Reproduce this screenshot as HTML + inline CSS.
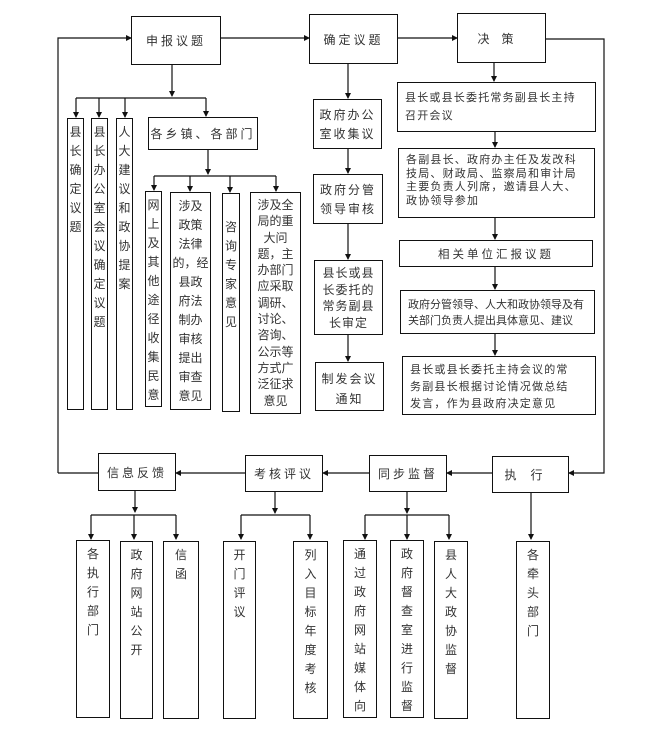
<!DOCTYPE html>
<html><head><meta charset="utf-8"><style>
body{margin:0;background:#fff;}
#c{position:relative;width:651px;height:746px;overflow:hidden;font-family:"Liberation Sans","Noto Sans CJK SC",sans-serif;color:#333;}
.b{position:absolute;border:1.3px solid #111;box-sizing:border-box;background:#fff;font-size:12px;}
.h{display:flex;align-items:center;justify-content:center;letter-spacing:3px;}
.v{text-align:center;line-height:19px;padding-top:4px;font-size:12px;}
.p{font-size:11px;letter-spacing:1.2px;line-height:16px;padding:6px 7px;}
svg{position:absolute;left:0;top:0;}
</style></head><body><div id="c">
<svg width="651" height="746">
<defs><marker id="a" markerWidth="6" markerHeight="6" refX="5" refY="3" orient="auto" markerUnits="userSpaceOnUse"><path d="M0,0 L6,3 L0,6z" fill="#111"/></marker></defs>
<g stroke="#111" stroke-width="1.2" fill="none">
<path d="M58,473 L58,38 L131,38" marker-end="url(#a)"/>
<path d="M221,38 L309,38" marker-end="url(#a)"/>
<path d="M398,38 L457,38" marker-end="url(#a)"/>
<path d="M546,39 L604,39 L604,473 L569,473" marker-end="url(#a)"/>
<path d="M172,65 L172,96" marker-end="url(#a)"/>
<path d="M76,98 L206,98"/>
<path d="M76,98 L76,117" marker-end="url(#a)"/>
<path d="M99,98 L99,117" marker-end="url(#a)"/>
<path d="M125,98 L125,117" marker-end="url(#a)"/>
<path d="M206,98 L206,116" marker-end="url(#a)"/>
<path d="M208,150 L208,174" marker-end="url(#a)"/>
<path d="M154,176 L276,176"/>
<path d="M154,176 L154,190" marker-end="url(#a)"/>
<path d="M190,176 L190,191" marker-end="url(#a)"/>
<path d="M230,176 L230,192" marker-end="url(#a)"/>
<path d="M276,176 L276,191" marker-end="url(#a)"/>
<path d="M348,64 L348,98" marker-end="url(#a)"/>
<path d="M348,149 L348,173" marker-end="url(#a)"/>
<path d="M348,224 L348,259" marker-end="url(#a)"/>
<path d="M348,335 L348,361" marker-end="url(#a)"/>
<path d="M494,63 L494,81" marker-end="url(#a)"/>
<path d="M495,132 L495,147" marker-end="url(#a)"/>
<path d="M495,218 L495,239" marker-end="url(#a)"/>
<path d="M495,267 L495,289" marker-end="url(#a)"/>
<path d="M495,334 L495,355" marker-end="url(#a)"/>
<path d="M492,473 L447,473" marker-end="url(#a)"/>
<path d="M369,473 L323,473" marker-end="url(#a)"/>
<path d="M245,473 L176,473" marker-end="url(#a)"/>
<path d="M98,473 L58,473"/>
<path d="M135,491 L135,512" marker-end="url(#a)"/>
<path d="M91,515 L176,515"/>
<path d="M91,515 L91,539" marker-end="url(#a)"/>
<path d="M134,515 L134,539" marker-end="url(#a)"/>
<path d="M176,515 L176,539" marker-end="url(#a)"/>
<path d="M275,492 L275,513" marker-end="url(#a)"/>
<path d="M241,515 L310,515"/>
<path d="M241,515 L241,539" marker-end="url(#a)"/>
<path d="M310,515 L310,539" marker-end="url(#a)"/>
<path d="M407,492 L407,513" marker-end="url(#a)"/>
<path d="M365,515 L449,515"/>
<path d="M365,515 L365,539" marker-end="url(#a)"/>
<path d="M407,515 L407,539" marker-end="url(#a)"/>
<path d="M449,515 L449,539" marker-end="url(#a)"/>
<path d="M531,493 L531,539" marker-end="url(#a)"/>
</g></svg>

<div class="b h" style="left:131px;top:16px;width:90px;height:49px">申报议题</div>
<div class="b h" style="left:309px;top:14px;width:89px;height:50px">确定议题</div>
<div class="b h" style="left:457px;top:13px;width:89px;height:50px;letter-spacing:12px">决策</div>

<div class="b v" style="left:67px;top:118px;width:17px;height:292px">县<br>长<br>确<br>定<br>议<br>题</div>
<div class="b v" style="left:91px;top:118px;width:17px;height:292px">县<br>长<br>办<br>公<br>室<br>会<br>议<br>确<br>定<br>议<br>题</div>
<div class="b v" style="left:116px;top:118px;width:17px;height:292px">人<br>大<br>建<br>议<br>和<br>政<br>协<br>提<br>案</div>
<div class="b h" style="left:148px;top:117px;width:110px;height:33px">各乡镇、各部门</div>
<div class="b v" style="left:145px;top:191px;width:17px;height:216px">网<br>上<br>及<br>其<br>他<br>途<br>径<br>收<br>集<br>民<br>意</div>
<div class="b v" style="left:170px;top:192px;width:41px;height:218px">涉及<br>政策<br>法律<br>的，经<br>县政<br>府法<br>制办<br>审核<br>提出<br>审查<br>意见</div>
<div class="b v" style="left:222px;top:193px;width:18px;height:219px;padding-top:24px">咨<br>询<br>专<br>家<br>意<br>见</div>
<div class="b v" style="left:250px;top:192px;width:51px;height:222px;line-height:16.3px;padding-top:4px">涉及全<br>局的重<br>大问<br>题，主<br>办部门<br>应采取<br>调研、<br>讨论、<br>咨询、<br>公示等<br>方式广<br>泛征求<br>意见</div>

<div class="b" style="left:313px;top:99px;width:69px;height:50px;padding:6px 4px;line-height:19px;letter-spacing:2px;font-size:12px;text-align:center">政府办公<br>室收集议</div>
<div class="b" style="left:313px;top:174px;width:70px;height:50px;padding:6px 4px;line-height:19px;letter-spacing:2px;font-size:12px;text-align:center">政府分管<br>领导审核</div>
<div class="b" style="left:314px;top:260px;width:69px;height:75px;padding:4px 4px;line-height:16.5px;letter-spacing:1px;font-size:12px;text-align:center">县长或县<br>长委托的<br>常务副县<br>长审定</div>
<div class="b" style="left:315px;top:362px;width:69px;height:49px;padding:6px 4px;line-height:20px;letter-spacing:2px;font-size:12px;text-align:center">制发会议<br>通知</div>

<div class="b p" style="left:397px;top:82px;width:199px;height:50px;line-height:18px">县长或县长委托常务副县长主持<br>召开会议</div>
<div class="b p" style="left:398px;top:148px;width:197px;height:70px;line-height:13.5px;padding-top:5px">各副县长、政府办主任及发改科<br>技局、财政局、监察局和审计局<br>主要负责人列席，邀请县人大、<br>政协领导参加</div>
<div class="b h" style="left:399px;top:240px;width:194px;height:27px;font-size:11.5px">相关单位汇报议题</div>
<div class="b p" style="left:400px;top:290px;width:195px;height:44px;letter-spacing:0;font-size:11px">政府分管领导、人大和政协领导及有<br>关部门负责人提出具体意见、建议</div>
<div class="b p" style="left:402px;top:356px;width:194px;height:59px;line-height:17px;padding-top:5px">县长或县长委托主持会议的常<br>务副县长根据讨论情况做总结<br>发言，作为县政府决定意见</div>

<div class="b h" style="left:98px;top:453px;width:78px;height:38px">信息反馈</div>
<div class="b h" style="left:245px;top:455px;width:78px;height:37px">考核评议</div>
<div class="b h" style="left:369px;top:455px;width:78px;height:37px">同步监督</div>
<div class="b h" style="left:492px;top:456px;width:77px;height:37px;letter-spacing:14px">执行</div>

<div class="b v" style="left:76px;top:540px;width:34px;height:178px">各<br>执<br>行<br>部<br>门</div>
<div class="b v" style="left:120px;top:541px;width:33px;height:178px">政<br>府<br>网<br>站<br>公<br>开</div>
<div class="b v" style="left:163px;top:541px;width:36px;height:178px">信<br>函</div>
<div class="b v" style="left:223px;top:541px;width:33px;height:178px">开<br>门<br>评<br>议</div>
<div class="b v" style="left:293px;top:541px;width:35px;height:178px">列<br>入<br>目<br>标<br>年<br>度<br>考<br>核</div>
<div class="b v" style="left:343px;top:540px;width:34px;height:178px">通<br>过<br>政<br>府<br>网<br>站<br>媒<br>体<br>向</div>
<div class="b v" style="left:390px;top:540px;width:34px;height:178px">政<br>府<br>督<br>查<br>室<br>进<br>行<br>监<br>督</div>
<div class="b v" style="left:434px;top:541px;width:34px;height:178px">县<br>人<br>大<br>政<br>协<br>监<br>督</div>
<div class="b v" style="left:516px;top:541px;width:34px;height:178px">各<br>牵<br>头<br>部<br>门</div>
</div></body></html>
